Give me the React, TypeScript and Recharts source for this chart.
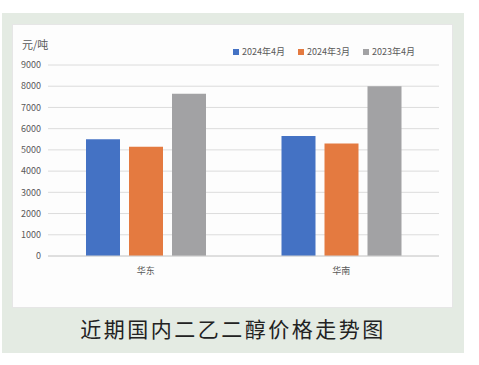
import React from "react";
import { BarChart, Bar, XAxis, YAxis, CartesianGrid, Legend } from "recharts";

const regions = ["华东", "华南"];
const apr2024 = [5500, 5650];
const mar2024 = [5150, 5300];
const apr2023 = [7650, 8000];
const yTicks = [0, 1000, 2000, 3000, 4000, 5000, 6000, 7000, 8000, 9000];
const seriesNames = ["2024年4月", "2024年3月", "2023年4月"];
const colors = ["#4472C4", "#E47A40", "#A2A2A4"];

const data = regions.map((r, i) => ({
  name: r,
  a: apr2024[i],
  b: mar2024[i],
  c: apr2023[i],
}));

const font = "'Noto Sans CJK SC', 'Noto Sans', sans-serif";

const LegendContent = () => (
  <div style={{ display: "flex", fontFamily: font, fontSize: 9, color: "#595959", lineHeight: "12px" }}>
    {seriesNames.map((n, i) => (
      <div key={n} style={{ display: "flex", alignItems: "center", marginRight: 13 }}>
        <span style={{ display: "inline-block", width: 6, height: 6, background: colors[i], marginRight: 3 }} />
        <span>{n}</span>
      </div>
    ))}
  </div>
);

export default function App() {
  return (
    <div style={{ position: "absolute", left: 0, top: 0, width: 479, height: 365, background: "#fff" }}>
      <div style={{ position: "absolute", left: 2, top: 13, width: 462, height: 340, background: "#E4EBE3" }} />
      <div
        style={{
          position: "absolute",
          left: 12,
          top: 24,
          width: 439,
          height: 282,
          background: "#FDFDFD",
          border: "1px solid #E6E6E6",
        }}
      />
      <div
        style={{
          position: "absolute",
          left: 22,
          top: 36,
          fontFamily: font,
          fontSize: 11,
          color: "#595959",
        }}
      >
        元/吨
      </div>
      <div style={{ position: "absolute", left: 0, top: 0 }}>
        <BarChart
          width={479}
          height={365}
          data={data}
          margin={{ top: 65, right: 40, bottom: 77, left: 0 }}
          barSize={34}
          barGap={9}
        >
          <CartesianGrid vertical={false} stroke="#DCDCDC" />
          <XAxis
            dataKey="name"
            height={20}
            tickLine={false}
            axisLine={{ stroke: "#D0D0D0" }}
            tick={{ fontSize: 9, fill: "#595959", fontFamily: font }}
            tickMargin={6}
          />
          <YAxis
            width={48}
            domain={[0, 9000]}
            ticks={yTicks}
            interval={0}
            tickLine={false}
            axisLine={false}
            tickSize={0}
            tickMargin={7}
            tick={{ fontSize: 9, fill: "#595959", fontFamily: font }}
          />
          <Legend
            content={<LegendContent />}
            wrapperStyle={{ position: "absolute", top: 46, left: 233, width: 220 }}
          />
          <Bar dataKey="a" name={seriesNames[0]} fill={colors[0]} isAnimationActive={false} />
          <Bar dataKey="b" name={seriesNames[1]} fill={colors[1]} isAnimationActive={false} />
          <Bar dataKey="c" name={seriesNames[2]} fill={colors[2]} isAnimationActive={false} />
        </BarChart>
      </div>
      <div
        style={{
          position: "absolute",
          left: 2,
          width: 462,
          top: 313,
          textAlign: "center",
          fontFamily: font,
          fontSize: 21,
          letterSpacing: 2.5,
          color: "#222",
          lineHeight: "30px",
        }}
      >
        近期国内二乙二醇价格走势图
      </div>
    </div>
  );
}
